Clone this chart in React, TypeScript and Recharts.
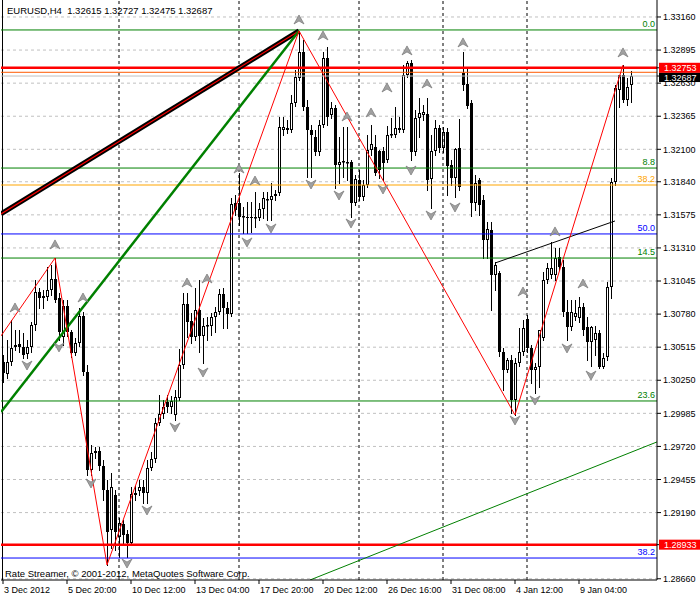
import React from "react";
import { Bar, CartesianGrid, ComposedChart, Line, ReferenceLine, XAxis, YAxis } from "recharts";

// EURUSD H4 candles, oldest first
const opens = [
  1.30396, 1.303, 1.30396, 1.30517, 1.30541, 1.30517, 1.3046, 1.30517, 1.30693, 1.30957,
  1.30925, 1.30917, 1.30973, 1.31061, 1.30909, 1.30597, 1.30845, 1.30637, 1.30468, 1.30549,
  1.30765, 1.30316, 1.29531, 1.29668, 1.29684, 1.29563, 1.29371, 1.29051, 1.29331, 1.28995,
  1.29099, 1.29019, 1.28947, 1.29331, 1.29363, 1.29395, 1.29347, 1.29547, 1.2962, 1.29908,
  1.2998, 1.30076, 1.30036, 1.29972, 1.30108, 1.30372, 1.30861, 1.30725, 1.30597, 1.30813,
  1.30605, 1.30685, 1.30685, 1.30757, 1.30797, 1.30941, 1.30829, 1.30781, 1.3167, 1.3167,
  1.31558, 1.31558, 1.31558, 1.3155, 1.3155, 1.31622, 1.31694, 1.31694, 1.31726, 1.3175,
  1.32255, 1.32255, 1.32255, 1.32471, 1.32671, 1.32879, 1.32439, 1.32255, 1.32199, 1.32079,
  1.32295, 1.32831, 1.32375, 1.32431, 1.31974, 1.31998, 1.3199, 1.31998, 1.3167, 1.31854,
  1.31718, 1.31814, 1.32095, 1.32119, 1.32087, 1.32087, 1.32014, 1.32215, 1.32215, 1.32255,
  1.32255, 1.32695, 1.32791, 1.32079, 1.32351, 1.32375, 1.32383, 1.31862, 1.32087, 1.32271,
  1.32111, 1.32239, 1.31974, 1.3187, 1.32111, 1.32711, 1.32623, 1.32471, 1.3167, 1.31854,
  1.31694, 1.31374, 1.31454, 1.31093, 1.31109, 1.30476, 1.30332, 1.30412, 1.30092, 1.30388,
  1.30476, 1.30741, 1.30509, 1.30332, 1.30356, 1.30589, 1.31053, 1.31093, 1.31093, 1.31237,
  1.31157, 1.30797, 1.30677, 1.30757, 1.30749, 1.30837, 1.30677, 1.30557, 1.30573, 1.30629,
  1.30356, 1.30436, 1.30997, 1.31838, 1.32575, 1.32695, 1.32495, 1.32615,
];
const highs = [
  1.30452, 1.30573, 1.30733, 1.30653, 1.30653, 1.30629, 1.30573, 1.30717, 1.31053, 1.30989,
  1.30973, 1.31157, 1.31173, 1.31229, 1.30949, 1.30893, 1.30893, 1.30653, 1.30589, 1.30829,
  1.30797, 1.30372, 1.29732, 1.29716, 1.29716, 1.29612, 1.29451, 1.29507, 1.29371, 1.29147,
  1.29131, 1.29051, 1.29395, 1.29403, 1.29451, 1.29451, 1.29612, 1.29676, 1.29948, 1.30132,
  1.30092, 1.30132, 1.30124, 1.30172, 1.30501, 1.30949, 1.30949, 1.30789, 1.30989, 1.31053,
  1.30749, 1.30757, 1.30789, 1.30837, 1.30981, 1.30989, 1.30877, 1.3171, 1.31734, 1.3191,
  1.31638, 1.31678, 1.31678, 1.31758, 1.3167, 1.31758, 1.31758, 1.3183, 1.31774, 1.32359,
  1.32359, 1.32335, 1.32535, 1.32735, 1.33048, 1.32976, 1.32495, 1.32295, 1.32255, 1.32335,
  1.32879, 1.3292, 1.32479, 1.32455, 1.32199, 1.32279, 1.32279, 1.32014, 1.31894, 1.31934,
  1.31854, 1.32215, 1.32295, 1.32215, 1.32095, 1.32119, 1.32287, 1.32351, 1.32439, 1.32359,
  1.32775, 1.32807, 1.32815, 1.32415, 1.32511, 1.32455, 1.32511, 1.32215, 1.32335, 1.32295,
  1.32279, 1.32271, 1.32014, 1.32111, 1.32343, 1.32879, 1.32759, 1.32495, 1.31894, 1.3187,
  1.31734, 1.31518, 1.31518, 1.31197, 1.31125, 1.30509, 1.30428, 1.30452, 1.30428, 1.30669,
  1.30733, 1.30773, 1.30533, 1.30388, 1.30653, 1.31117, 1.31189, 1.31358, 1.3131, 1.3131,
  1.31213, 1.30893, 1.30893, 1.30893, 1.30917, 1.30869, 1.30757, 1.30685, 1.30685, 1.30653,
  1.30468, 1.31037, 1.3187, 1.32615, 1.32695, 1.32775, 1.32671, 1.32727,
];
const lows = [
  1.30236, 1.30268, 1.30372, 1.30493, 1.30476, 1.30428, 1.30428, 1.30476, 1.30653, 1.30829,
  1.30829, 1.30893, 1.30933, 1.30877, 1.30573, 1.30533, 1.30605, 1.30436, 1.30452, 1.30525,
  1.30292, 1.29491, 1.29491, 1.29627, 1.29531, 1.29291, 1.28771, 1.28907, 1.28891, 1.28835,
  1.28931, 1.28835, 1.28931, 1.29291, 1.29331, 1.29267, 1.29267, 1.29531, 1.29596, 1.29892,
  1.29948, 1.29996, 1.29988, 1.29932, 1.30092, 1.30348, 1.30597, 1.30549, 1.30573, 1.30476,
  1.30388, 1.30573, 1.30613, 1.30637, 1.30781, 1.30669, 1.30669, 1.30765, 1.31574, 1.31494,
  1.3143, 1.3143, 1.31438, 1.31478, 1.31534, 1.3155, 1.31534, 1.31534, 1.31694, 1.31734,
  1.32215, 1.32231, 1.32239, 1.32447, 1.32655, 1.32415, 1.31878, 1.31878, 1.32055, 1.32055,
  1.32279, 1.32295, 1.32351, 1.3179, 1.3183, 1.31878, 1.31854, 1.31558, 1.31654, 1.31694,
  1.31694, 1.31798, 1.32055, 1.31894, 1.3187, 1.31854, 1.31998, 1.32199, 1.32199, 1.32239,
  1.32239, 1.32679, 1.32014, 1.32055, 1.32199, 1.32335, 1.31774, 1.3163, 1.32055, 1.32079,
  1.32079, 1.31734, 1.31814, 1.31718, 1.31774, 1.32575, 1.32431, 1.31566, 1.31614, 1.31574,
  1.31229, 1.31229, 1.30813, 1.30973, 1.30444, 1.30172, 1.30316, 1.29988, 1.29972, 1.30364,
  1.30452, 1.30476, 1.30228, 1.30148, 1.30196, 1.30573, 1.31029, 1.31069, 1.31053, 1.31133,
  1.30765, 1.30573, 1.30653, 1.30733, 1.30717, 1.30613, 1.30412, 1.30364, 1.30452, 1.30348,
  1.30348, 1.30412, 1.30909, 1.31814, 1.32439, 1.32479, 1.32455, 1.32475,
];
const closes = [
  1.30308, 1.30396, 1.30509, 1.30533, 1.30517, 1.30452, 1.30517, 1.30693, 1.30957, 1.30909,
  1.30909, 1.30973, 1.31061, 1.30893, 1.30637, 1.30845, 1.30637, 1.30468, 1.30549, 1.30765,
  1.30316, 1.29531, 1.29668, 1.29684, 1.29563, 1.29371, 1.29035, 1.29395, 1.29035, 1.29107,
  1.29011, 1.28947, 1.29339, 1.29347, 1.29395, 1.29347, 1.29547, 1.2962, 1.29908, 1.2998,
  1.30036, 1.30036, 1.30084, 1.30116, 1.30372, 1.30861, 1.30717, 1.30597, 1.30813, 1.30605,
  1.30685, 1.30693, 1.30757, 1.30797, 1.30941, 1.30829, 1.30781, 1.31662, 1.31614, 1.31558,
  1.31566, 1.3155, 1.3155, 1.31558, 1.31622, 1.3171, 1.31702, 1.31726, 1.31742, 1.32279,
  1.32279, 1.32271, 1.32471, 1.32679, 1.32879, 1.32439, 1.32255, 1.32215, 1.32079, 1.32295,
  1.32831, 1.32359, 1.32431, 1.31974, 1.31998, 1.32006, 1.31998, 1.3167, 1.31862, 1.31718,
  1.31814, 1.32095, 1.32143, 1.3191, 1.31934, 1.3199, 1.32215, 1.32223, 1.32271, 1.32271,
  1.32695, 1.32791, 1.32079, 1.32351, 1.32391, 1.32399, 1.31854, 1.32087, 1.32271, 1.32111,
  1.32239, 1.31966, 1.3187, 1.32103, 1.31798, 1.32615, 1.32447, 1.3167, 1.3183, 1.31654,
  1.31374, 1.31462, 1.31093, 1.31173, 1.30476, 1.30332, 1.30412, 1.30092, 1.30388, 1.30476,
  1.30669, 1.30509, 1.30332, 1.30356, 1.30653, 1.31053, 1.31149, 1.31149, 1.31229, 1.31157,
  1.30797, 1.30677, 1.30797, 1.30789, 1.30837, 1.30653, 1.30557, 1.30677, 1.30629, 1.30356,
  1.30428, 1.30997, 1.31838, 1.32591, 1.32695, 1.32495, 1.32599, 1.32687,
];

// fractal arrows
const upIdx = [3, 13, 20, 46, 51, 59, 63, 74, 80, 86, 92, 96, 101, 106, 115, 130, 138, 145, 155];
const upPrice = [
  1.30829, 1.31334, 1.30909, 1.31029, 1.31061, 1.31942, 1.31846, 1.33136, 1.33008, 1.32359,
  1.32391, 1.32591, 1.32888, 1.32623, 1.32952, 1.30957, 1.31438, 1.31021, 1.32872,
];
const downIdx = [6, 14, 22, 31, 36, 43, 50, 61, 67, 77, 84, 87, 95, 102, 107, 113, 128, 133, 141, 147];
const downPrice = [
  1.30372, 1.30517, 1.29427, 1.28786, 1.29211, 1.29876, 1.30316, 1.31358, 1.3147, 1.31822,
  1.31734, 1.3151, 1.31782, 1.31934, 1.31574, 1.31638, 1.29932, 1.30092, 1.30509, 1.30292,
];

// axes
const timeTicks = [0, 16, 32, 48, 64, 80, 96, 112, 128, 144];
const timeLabels = [
  "3 Dec 2012", "5 Dec 20:00", "10 Dec 12:00", "13 Dec 04:00", "17 Dec 20:00",
  "20 Dec 12:00", "26 Dec 16:00", "31 Dec 08:00", "4 Jan 12:00", "9 Jan 04:00",
];
const priceTicks = [
  1.3316, 1.32895, 1.3263, 1.32365, 1.321, 1.3184, 1.31575, 1.3131, 1.31045, 1.3078,
  1.30515, 1.3025, 1.29985, 1.2972, 1.29455, 1.2919, 1.2866,
];
const gridIdx = [8, 16, 24, 32, 40, 48, 56, 64, 72, 80, 88, 96, 104, 112, 120, 128, 136, 144, 152, 160];
const weekIdx = [29, 59, 89, 110, 131];

// fibo levels drawn across the chart
const fibPrices = [1.33056, 1.3195, 1.31814, 1.31422, 1.31229, 1.30084, 1.28826];
const fibLabels = ["0.0", "8.8", "38.2", "50.0", "14.5", "23.6", "38.2"];
const fibColors = ["#008000", "#008000", "#ffa500", "#0000ff", "#008000", "#008000", "#0000ff"];

// zigzag vertices
const zigIdx = [-0.5, 13, 26, 74, 128, 155];
const zigPrice = [1.30605, 1.31229, 1.28771, 1.33048, 1.29972, 1.32775];

// trend lines: [x1, x2], [p1, p2]
const channelIdx = [-0.5, 74];
const channelPrice = [1.31582, 1.33048];
const greenIdx = [-0.5, 74];
const greenPrice = [1.29996, 1.33048];
const thinIdx = [123, 153];
const thinPrice = [1.31189, 1.31526];
const lowerIdx = [76.75, 163.5];
const lowerPrice = [1.2865, 1.29756];

const askPrice = 1.32753;
const bidPrice = 1.32687;
const stopPrice = 1.32717;
const lowLinePrice = 1.28933;

const FONT = "Liberation Sans, Arial, sans-serif";

const rows = opens.map((o, i) => {
  const u = upIdx.indexOf(i);
  const d = downIdx.indexOf(i);
  return {
    i,
    o,
    h: highs[i],
    l: lows[i],
    c: closes[i],
    fu: u >= 0 ? upPrice[u] : null,
    fd: d >= 0 ? downPrice[d] : null,
  };
});

// price boxes go last so they sit on top of the ordinary tick labels
const axisTicks = [...priceTicks, bidPrice, askPrice, lowLinePrice];

const Candle = (props: any) => {
  const { x, y, width, height, payload } = props;
  if (!payload || x == null || y == null) return <g />;
  const top = Math.min(y, y + height);
  const bottom = Math.max(y, y + height);
  const span = payload.h - payload.l;
  const toY = (p: number) => (span === 0 ? top : top + ((payload.h - p) / span) * (bottom - top));
  const cx = Math.round(x + width / 2);
  const yo = toY(payload.o);
  const yc = toY(payload.c);
  const bTop = Math.round(Math.min(yo, yc));
  const bBot = Math.max(Math.round(Math.max(yo, yc)), bTop + 1);
  const bull = payload.c >= payload.o;
  return (
    <g>
      <line x1={cx + 0.5} x2={cx + 0.5} y1={Math.round(top)} y2={bTop} stroke="#000" strokeWidth={1} />
      <line x1={cx + 0.5} x2={cx + 0.5} y1={bBot} y2={Math.round(bottom) + 1} stroke="#000" strokeWidth={1} />
      {bull ? (
        <rect x={cx - 0.5} y={bTop + 0.5} width={2} height={Math.max(bBot - bTop - 1, 0.5)} fill="#fff" stroke="#000" strokeWidth={1} />
      ) : (
        <rect x={cx - 1} y={bTop} width={3} height={bBot - bTop} fill="#000" />
      )}
    </g>
  );
};

const arrowDot = (dir: "up" | "down") => (props: any) => {
  const { cx, cy, index, value } = props;
  const key = `${dir}-${index}`;
  if (cx == null || cy == null || value == null || Number.isNaN(cy)) return <g key={key} />;
  const s = dir === "up" ? 1 : -1;
  const pts = [
    [cx, cy - 5 * s],
    [cx + 5, cy + 4 * s],
    [cx, cy + 1 * s],
    [cx - 5, cy + 4 * s],
  ]
    .map((p) => p.join(","))
    .join(" ");
  return <polygon key={key} points={pts} fill="#a0a0a0" stroke="#777" strokeWidth={0.7} />;
};

const TimeTick = (props: any) => {
  const { x, y, payload } = props;
  const k = timeTicks.indexOf(payload.value);
  return (
    <text x={x + 1} y={y} dy={7} textAnchor="start" fontSize={9} fontFamily={FONT} fill="#000">
      {k >= 0 ? timeLabels[k] : ""}
    </text>
  );
};

const PriceTick = (props: any) => {
  const { x, y, payload } = props;
  const v = payload.value;
  const label = Number(v).toFixed(5);
  if (v === askPrice || v === lowLinePrice || v === bidPrice) {
    const isBid = v === bidPrice;
    const top = isBid ? y - 3.5 : y - 5;
    const h = isBid ? 9.5 : 10;
    return (
      <g>
        <rect x={x - 4} y={top} width={42} height={h} fill={isBid ? "#000" : "#ff0000"} />
        <text x={x + 1} y={isBid ? y + 5 : y + 3.3} fontSize={9} fontFamily={FONT} fill="#fff">
          {label}
        </text>
      </g>
    );
  }
  return (
    <text x={x} y={y} dy={3.2} textAnchor="start" fontSize={9} fontFamily={FONT} fill="#000">
      {label}
    </text>
  );
};

const fibLabel = (text: string, color: string) => (props: any) => {
  const vb = props.viewBox || {};
  return (
    <text x={(vb.x || 0) + (vb.width || 0) - 2} y={vb.y - 3} textAnchor="end" fontSize={9} fontFamily={FONT} fill={color}>
      {text}
    </text>
  );
};

const seg = (xs: number[], ps: number[], k: number) => [
  { x: xs[k], y: ps[k] },
  { x: xs[k + 1], y: ps[k + 1] },
];

export default function App() {
  return (
    <div style={{ position: "absolute", left: 0, top: 0, width: 700, height: 600, background: "#fff" }}>
      <ComposedChart width={700} height={600} data={rows} margin={{ top: 0, right: 0, bottom: 0, left: 1 }}>
        <CartesianGrid
          stroke="#c0c0c0"
          strokeDasharray="3 3"
          vertical={true}
          horizontalValues={priceTicks}
          verticalCoordinatesGenerator={(p: any) => {
            const sc = p && p.xAxis && p.xAxis.scale;
            return typeof sc === "function" ? gridIdx.map((i) => sc(i)) : [];
          }}
        />
        <XAxis
          dataKey="i"
          type="number"
          domain={[-0.5, 163.5]}
          allowDataOverflow
          ticks={timeTicks}
          interval={0}
          height={20}
          tickSize={4}
          tick={<TimeTick />}
          axisLine={{ stroke: "#000" }}
          tickLine={{ stroke: "#000" }}
        />
        <YAxis
          orientation="right"
          type="number"
          domain={[1.2865, 1.33296]}
          allowDataOverflow
          ticks={axisTicks}
          interval={0}
          width={43}
          tickSize={4}
          tickMargin={2}
          tick={<PriceTick />}
          axisLine={{ stroke: "#000" }}
          tickLine={{ stroke: "#000" }}
        />
        <ReferenceLine x={-0.125} stroke="#000" />
        {weekIdx.map((w) => (
          <ReferenceLine key={`w${w}`} x={w} stroke="#000" strokeDasharray="3 3" />
        ))}

        <Bar dataKey={(d: any) => [d.l, d.h]} shape={Candle} barSize={3} isAnimationActive={false} />

        {fibPrices.map((p, k) => (
          <ReferenceLine key={`f${k}`} y={p} stroke={fibColors[k]} strokeWidth={1} label={fibLabel(fibLabels[k], fibColors[k])} />
        ))}
        <ReferenceLine y={stopPrice} stroke="#ff5a00" strokeWidth={1} />
        <ReferenceLine y={bidPrice} stroke="#c0c0c0" strokeWidth={1} />
        <ReferenceLine y={askPrice} stroke="#ff0000" strokeWidth={2.5} />
        <ReferenceLine y={lowLinePrice} stroke="#ff0000" strokeWidth={2.5} />

        <ReferenceLine segment={seg(channelIdx, channelPrice, 0)} stroke="#000" strokeWidth={5} ifOverflow="hidden" />
        <ReferenceLine segment={seg(channelIdx, channelPrice, 0)} stroke="#ff0000" strokeWidth={1.2} ifOverflow="hidden" />
        <ReferenceLine segment={seg(greenIdx, greenPrice, 0)} stroke="#008000" strokeWidth={2.5} ifOverflow="hidden" />
        <ReferenceLine segment={seg(thinIdx, thinPrice, 0)} stroke="#000" strokeWidth={1} ifOverflow="hidden" />
        <ReferenceLine segment={seg(lowerIdx, lowerPrice, 0)} stroke="#008000" strokeWidth={1} ifOverflow="hidden" />
        {zigIdx.slice(0, -1).map((_, k) => (
          <ReferenceLine key={`z${k}`} segment={seg(zigIdx, zigPrice, k)} stroke="#ff0000" strokeWidth={1} ifOverflow="hidden" />
        ))}

        <Line dataKey="fu" stroke="none" dot={arrowDot("up")} activeDot={false} isAnimationActive={false} legendType="none" />
        <Line dataKey="fd" stroke="none" dot={arrowDot("down")} activeDot={false} isAnimationActive={false} legendType="none" />
      </ComposedChart>
      <div style={{ position: "absolute", left: 7, top: 5, fontFamily: FONT, fontSize: 9.5, whiteSpace: "pre", color: "#000" }}>
        {"EURUSD,H4  1.32615 1.32727 1.32475 1.32687"}
      </div>
      <div style={{ position: "absolute", left: 5, top: 568, fontFamily: FONT, fontSize: 9.5, whiteSpace: "pre", color: "#000" }}>
        {"Rate Streamer, © 2001-2012, MetaQuotes Software Corp."}
      </div>
    </div>
  );
}
